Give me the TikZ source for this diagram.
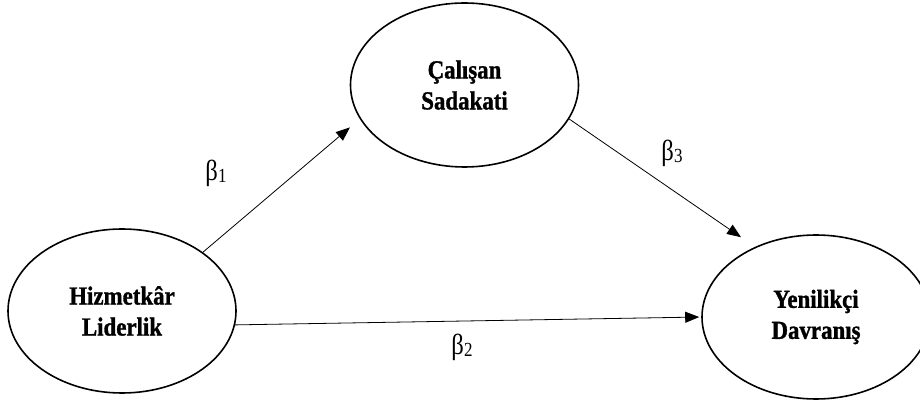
\documentclass[tikz,border=0pt]{standalone}
\usepackage{fontspec}
\setmainfont{Liberation Serif}
\newfontfamily\nodefont[FakeStretch=0.88,FakeBold=1.2]{Liberation Serif}
\newfontfamily\coeffont[FakeStretch=0.85]{Liberation Serif}
\usetikzlibrary{shapes.geometric,arrows.meta}
\newcommand{\coefsub}[1]{{\fontsize{20}{20}\selectfont\raisebox{-2pt}{#1}}}
\begin{document}
\begin{tikzpicture}[x=1pt,y=1pt,
  latent/.style={ellipse,draw,line width=1.6pt,minimum width=228pt,minimum height=164pt,
    inner sep=0pt,align=center,font=\nodefont\fontsize{26}{31}\selectfont\bfseries},
  effect/.style={line width=0.8pt,-{Triangle[length=14pt,width=11pt]}},
  coef/.style={font=\coeffont\fontsize{29}{29}\selectfont,inner sep=0pt}]
\useasboundingbox (0,0) rectangle (920,401);
\clip (0,0) rectangle (920,401);
\node[latent] (L) at (122,90) {Hizmetkâr\\Liderlik};
\node[latent] (T) at (464.5,316) {Çalışan\\Sadakati};
\node[latent] (R) at (816,84) {Yenilikçi\\Davranış};
\draw[effect,shorten >=13pt] (L.36) -- (T.198);
\draw[effect,shorten >=17pt] (T.342) -- (R.131);
\draw[effect,shorten >=2pt] (L.353.5) -- (R.180.5);
\node[coef] (b1) at (216,228) {β\coefsub{1}};
\node[coef] (b3) at (672,248) {β\coefsub{3}};
\node[coef] (b2) at (462,54) {β\coefsub{2}};
\end{tikzpicture}
\end{document}
